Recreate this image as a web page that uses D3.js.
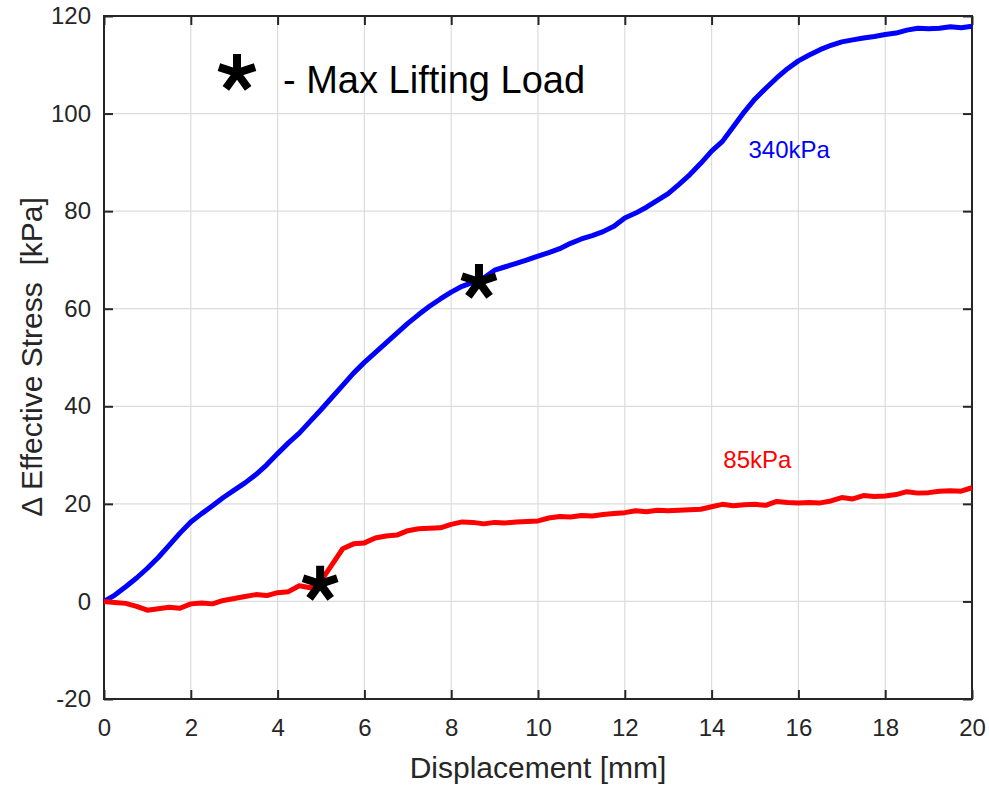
<!DOCTYPE html>
<html>
<head>
<meta charset="utf-8">
<script src="https://cdn.jsdelivr.net/npm/d3@7"></script>
<style>
  body { margin: 0; background: #fff; }
  text { font-family: "Liberation Sans", Arial, sans-serif; }
</style>
</head>
<body>
<svg id="chart" width="989" height="788"></svg>
<script>
// displacement [mm], sampled every 0.25
var disp = d3.range(0, 20.01, 0.25);

// 340kPa test (blue)
var stress340 = [0, 1.3, 3.0, 4.8, 6.8, 9.0, 11.5, 14.0, 16.3, 18.0, 19.6, 21.3, 22.8, 24.3, 26.0, 28.0,
  30.3, 32.5, 34.5, 36.9, 39.3, 41.8, 44.3, 46.8, 49.0, 51.0, 53.0, 55.0, 57.0, 58.8, 60.5, 62.0,
  63.4, 64.6, 65.4, 66.3, 67.9, 68.6, 69.3, 70.0, 70.8, 71.5, 72.3, 73.4, 74.3, 75.0, 75.8, 76.9,
  78.6, 79.6, 80.8, 82.2, 83.6, 85.5, 87.5, 89.8, 92.3, 94.3, 97.3, 100.3, 103.0, 105.2, 107.3, 109.2,
  110.8, 112.0, 113.1, 114.0, 114.7, 115.1, 115.5, 115.8, 116.2, 116.5, 117.1, 117.5, 117.4, 117.5, 117.8, 117.6, 117.9];

// 85kPa test (red)
var stress85 = [0, -0.2, -0.4, -1.0, -1.8, -1.5, -1.2, -1.4, -0.5, -0.3, -0.5, 0.2, 0.6, 1.0, 1.4, 1.2,
  1.8, 2.0, 3.2, 2.8, 4.2, 7.5, 10.8, 11.8, 12.0, 13.0, 13.4, 13.6, 14.5, 14.9, 15.0, 15.1,
  15.8, 16.3, 16.2, 15.9, 16.2, 16.1, 16.3, 16.4, 16.5, 17.1, 17.4, 17.3, 17.6, 17.5, 17.8, 18.0,
  18.2, 18.6, 18.4, 18.7, 18.6, 18.7, 18.8, 18.9, 19.4, 19.9, 19.6, 19.8, 19.9, 19.7, 20.5, 20.3,
  20.2, 20.3, 20.2, 20.6, 21.3, 21.0, 21.7, 21.5, 21.6, 21.9, 22.5, 22.2, 22.3, 22.6, 22.7, 22.6, 23.3];

// max lifting load points
var maxDisp = [8.64, 4.98];
var maxStress = [65.5, 3.6];

var xTicks = d3.range(0, 21, 2);
var yTicks = d3.range(-20, 121, 20);

var svg = d3.select("#chart"),
    margin = {top: 16, right: 17, bottom: 89, left: 104},
    width = +svg.attr("width") - margin.left - margin.right,
    height = +svg.attr("height") - margin.top - margin.bottom;

var g = svg.append("g").attr("transform", "translate(" + margin.left + "," + margin.top + ")");

var x = d3.scaleLinear().domain([0, 20]).range([0, width]);
var y = d3.scaleLinear().domain([-20, 120]).range([height, 0]);

var axisColor = "#262626";
var plain = function(d) { return String(d); }; // keep the ascii hyphen for negatives

// grid
g.append("g").selectAll("line").data(xTicks).enter().append("line")
  .attr("x1", function(d) { return x(d); }).attr("x2", function(d) { return x(d); })
  .attr("y1", 0).attr("y2", height)
  .attr("stroke", "#dcdcdc").attr("stroke-width", 1.2);
g.append("g").selectAll("line").data(yTicks).enter().append("line")
  .attr("y1", function(d) { return y(d); }).attr("y2", function(d) { return y(d); })
  .attr("x1", 0).attr("x2", width)
  .attr("stroke", "#dcdcdc").attr("stroke-width", 1.2);

// axes, ticks pointing inward
function styleAxis(sel) {
  sel.select(".domain").remove();
  sel.selectAll(".tick line").attr("stroke", axisColor).attr("stroke-width", 2);
  sel.selectAll(".tick text").attr("fill", axisColor).style("font-size", "24px")
    .style("font-family", "'Liberation Sans', Arial, sans-serif");
}
g.append("g").attr("transform", "translate(0," + height + ")")
  .call(d3.axisBottom(x).tickValues(xTicks).tickSize(-9).tickPadding(20).tickFormat(plain))
  .call(styleAxis);
g.append("g")
  .call(d3.axisTop(x).tickValues(xTicks).tickSize(-9).tickFormat(""))
  .call(styleAxis);
g.append("g")
  .call(d3.axisLeft(y).tickValues(yTicks).tickSize(-9).tickPadding(13).tickFormat(plain))
  .call(styleAxis);
g.append("g").attr("transform", "translate(" + width + ",0)")
  .call(d3.axisRight(y).tickValues(yTicks).tickSize(-9).tickFormat(""))
  .call(styleAxis);

g.append("rect").attr("width", width).attr("height", height)
  .attr("fill", "none").attr("stroke", axisColor).attr("stroke-width", 2);

// curves
var line = d3.line()
  .x(function(d, i) { return x(disp[i]); })
  .y(function(d) { return y(d); });

g.append("path").datum(stress340).attr("d", line)
  .attr("fill", "none").attr("stroke", "#0000ff").attr("stroke-width", 5).attr("stroke-linejoin", "round");
g.append("path").datum(stress85).attr("d", line)
  .attr("fill", "none").attr("stroke", "#ff0000").attr("stroke-width", 5).attr("stroke-linejoin", "round");

// asterisk marker, five arms
function asterisk(cx, cy, len) {
  var p = "";
  for (var k = 0; k < 5; k++) {
    var a = -Math.PI / 2 + k * 2 * Math.PI / 5;
    p += "M" + cx + "," + cy + "L" + (cx + len * Math.cos(a)) + "," + (cy + len * Math.sin(a));
  }
  return p;
}
g.append("g").selectAll("path").data(maxDisp).enter().append("path")
  .attr("d", function(d, i) { return asterisk(x(d), y(maxStress[i]), 18); })
  .attr("stroke", "#000").attr("stroke-width", 8).attr("fill", "none");

// series labels
g.append("text").attr("x", x(14.85)).attr("y", y(92.3) + 7)
  .attr("fill", "#0000ff").style("font-size", "24px").text("340kPa");
g.append("text").attr("x", x(14.27)).attr("y", y(28.7) + 7)
  .attr("fill", "#ff0000").style("font-size", "24px").text("85kPa");

// legend
g.append("path").attr("d", asterisk(237 - margin.left, 73 - margin.top, 19))
  .attr("stroke", "#000").attr("stroke-width", 8).attr("fill", "none");
g.append("text").attr("x", 283 - margin.left).attr("y", 93 - margin.top)
  .attr("fill", "#000").style("font-size", "38px").text("- Max Lifting Load");

// axis titles
svg.append("text").attr("x", margin.left + width / 2).attr("y", 778)
  .attr("text-anchor", "middle").attr("fill", axisColor).style("font-size", "30px")
  .text("Displacement [mm]");
svg.append("text").attr("transform", "translate(42,357) rotate(-90)")
  .attr("text-anchor", "middle").attr("fill", axisColor).style("font-size", "30px")
  .style("white-space", "pre")
  .text("\u0394 Effective Stress  [kPa]");
</script>
</body>
</html>
